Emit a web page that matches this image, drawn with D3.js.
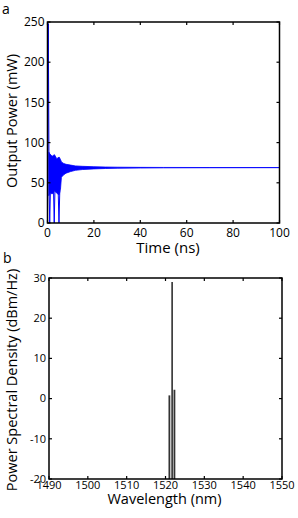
<!DOCTYPE html>
<html>
<head>
<meta charset="utf-8">
<script src="https://cdn.jsdelivr.net/npm/d3@7"></script>
<style>
    body { margin: 0; background: #fff; }
    text { font-family: "Open Sans", "Liberation Sans", sans-serif; fill: #000; }
</style>
</head>
<body>
<script>
// panel a: laser output power vs time
var timeTicks = [0, 20, 40, 60, 80, 100];
var powerTicks = [0, 50, 100, 150, 200, 250];
// envelope of the fast relaxation oscillation
var envTime = [0.6, 1, 2, 3, 4, 5, 5.6, 6, 7, 8, 10, 12, 15, 20, 25, 30, 40, 50, 70, 100];
var envHigh = [88, 86, 83, 85, 80, 82, 79, 76, 74, 73, 72, 71, 70.5, 70, 69.6, 69.4, 69.2, 69.1, 69, 69];
var envLow = [34, 38, 36, 40, 37, 35, 42, 57, 60, 62, 64, 65.5, 66.5, 67.3, 67.8, 68.1, 68.4, 68.6, 68.7, 68.8];
// first spike and the dips down to zero
var spikeTime = [0, 0.35, 0.7, 0.95, 1.25, 2.6, 2.9, 3.2, 4.6, 4.95, 5.3];
var spikePower = [0, 248, 40, 0, 40, 40, 0, 40, 40, 0, 40];

// panel b: spectrum
var wlTicks = [1490, 1500, 1510, 1520, 1530, 1540, 1550];
var psdTicks = [-20, -10, 0, 10, 20, 30];
var lineWl = [1521.0, 1521.7, 1522.3];
var linePsd = [0.8, 29, 2.2];

var svg = d3.select("body").append("svg")
    .attr("width", 298)
    .attr("height", 518);

function frame(g, x, y, xTicks, yTicks, fs, lblOff) {
    var x0 = x.range()[0], x1 = x.range()[1];
    var y0 = y.range()[0], y1 = y.range()[1];
    var tl = 3;

    g.append("rect")
        .attr("x", x0).attr("y", y1)
        .attr("width", x1 - x0).attr("height", y0 - y1)
        .attr("fill", "none").attr("stroke", "#000").attr("stroke-width", 1.5);

    // ticks point inward on all four sides
    xTicks.forEach(function (t) {
        g.append("line").attr("x1", x(t)).attr("x2", x(t)).attr("y1", y0).attr("y2", y0 - tl)
            .attr("stroke", "#000").attr("stroke-width", 1.2);
        g.append("line").attr("x1", x(t)).attr("x2", x(t)).attr("y1", y1).attr("y2", y1 + tl)
            .attr("stroke", "#000").attr("stroke-width", 1.2);
    });
    yTicks.forEach(function (t) {
        g.append("line").attr("x1", x0).attr("x2", x0 + tl).attr("y1", y(t)).attr("y2", y(t))
            .attr("stroke", "#000").attr("stroke-width", 1.2);
        g.append("line").attr("x1", x1).attr("x2", x1 - tl).attr("y1", y(t)).attr("y2", y(t))
            .attr("stroke", "#000").attr("stroke-width", 1.2);
    });

    g.selectAll(".xl").data(xTicks).enter().append("text")
        .attr("x", function (d) { return x(d); })
        .attr("y", y0 + lblOff)
        .attr("text-anchor", "middle")
        .style("font-size", fs + "px")
        .text(function (d) { return d; });

    g.selectAll(".yl").data(yTicks).enter().append("text")
        .attr("x", x0 - 3)
        .attr("y", function (d) { return y(d); })
        .attr("dy", "0.35em")
        .attr("text-anchor", "end")
        .style("font-size", fs + "px")
        .text(function (d) { return d; });
}

// ---- panel a
var xa = d3.scaleLinear().domain([0, 100]).range([47.5, 279.5]);
var ya = d3.scaleLinear().domain([0, 250]).range([223, 22]);
var ga = svg.append("g");

var env = envTime.map(function (t, i) { return {t: t, hi: envHigh[i], lo: envLow[i]}; });
ga.append("path")
    .datum(env)
    .attr("fill", "#0000ff")
    .attr("stroke", "#0000ff")
    .attr("stroke-width", 0.8)
    .attr("d", d3.area()
        .x(function (d) { return xa(d.t); })
        .y0(function (d) { return ya(d.lo); })
        .y1(function (d) { return ya(d.hi); }));

ga.append("path")
    .datum(spikeTime.map(function (t, i) { return [t, spikePower[i]]; }))
    .attr("fill", "none")
    .attr("stroke", "#0000ff")
    .attr("stroke-width", 1)
    .attr("d", d3.line()
        .x(function (d) { return xa(d[0]); })
        .y(function (d) { return ya(d[1]); }));

frame(ga, xa, ya, timeTicks, powerTicks, 12, 14);

ga.append("text").attr("x", 168).attr("y", 253).attr("text-anchor", "middle")
    .style("font-size", "15px").text("Time (ns)");
ga.append("text").attr("transform", "translate(17,121) rotate(-90)").attr("text-anchor", "middle")
    .style("font-size", "14.5px").text("Output Power (mW)");
ga.append("text").attr("x", 2).attr("y", 14).style("font-size", "14px").text("a");

// ---- panel b
var xb = d3.scaleLinear().domain([1490, 1550]).range([49, 282]);
var yb = d3.scaleLinear().domain([-20, 30]).range([479, 278]);
var gb = svg.append("g");

gb.selectAll(".stem")
    .data(lineWl.map(function (w, i) { return {w: w, p: linePsd[i]}; }))
    .enter().append("line")
    .attr("x1", function (d) { return xb(d.w); })
    .attr("x2", function (d) { return xb(d.w); })
    .attr("y1", yb(-20))
    .attr("y2", function (d) { return yb(d.p); })
    .attr("stroke", function (d, i) { return i === 1 ? "#000" : "#333"; })
    .attr("stroke-width", function (d, i) { return i === 1 ? 1.3 : 1.8; });

frame(gb, xb, yb, wlTicks, psdTicks, 11, 10);

gb.append("text").attr("x", 164.5).attr("y", 504).attr("text-anchor", "middle")
    .style("font-size", "14.5px").text("Wavelength (nm)");
gb.append("text").attr("transform", "translate(17,380) rotate(-90)").attr("text-anchor", "middle")
    .style("font-size", "14.5px").text("Power Spectral Density (dBm/Hz)");
gb.append("text").attr("x", 3).attr("y", 263).style("font-size", "14px").text("b");
</script>
</body>
</html>
